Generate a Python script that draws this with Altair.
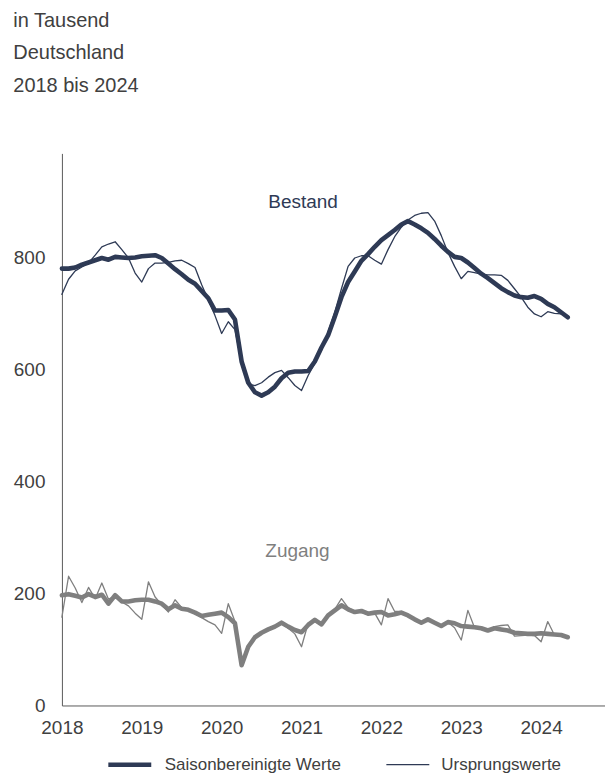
import altair as alt
import pandas as pd

# Monthly data Jan 2018 - May 2024 (in thousands)
start_year = 2018
n_months = 77

bestand_sa = [781, 781, 783, 788, 792, 796, 800, 797, 802, 801, 800, 801,
              803, 804, 805, 800, 790, 780, 771, 761, 754, 741, 728, 706,
              706, 707, 690, 615, 577, 560, 554, 560, 570, 585, 595, 597,
              597, 598, 615, 640, 662, 695, 730, 757, 776, 795, 807, 820,
              832, 841, 850, 860, 866, 860, 853, 845, 834, 822, 811, 802,
              800, 792, 782, 772, 764, 755, 746, 739, 733, 730, 729, 732,
              727, 718, 712, 703, 694]

bestand_orig = [735, 762, 777, 784, 791, 805, 820, 825, 829, 815, 800, 773,
                757, 781, 791, 791, 792, 795, 796, 790, 783, 752, 725, 697,
                665, 686, 672, 612, 575, 572, 577, 587, 595, 599, 586, 572,
                563, 590, 612, 635, 668, 703, 745, 785, 800, 804, 804, 796,
                789, 815, 838, 855, 868, 876, 880, 881, 866, 840, 810, 785,
                763, 776, 774, 771, 770, 770, 769, 760, 745, 730, 712, 700,
                695, 704, 701, 700, 697]

zugang_sa = [197, 199, 196, 193, 199, 194, 198, 182, 197, 186, 186, 188,
             189, 189, 186, 182, 172, 179, 173, 171, 166, 160, 162, 164,
             166, 158, 147, 72, 105, 122, 130, 136, 141, 148, 141, 135,
             131, 144, 153, 145, 161, 170, 179, 172, 167, 169, 164, 166,
             167, 161, 163, 166, 161, 154, 148, 154, 148, 142, 149, 147,
             142, 141, 140, 138, 134, 138, 136, 134, 130, 129, 128, 128,
             129, 128, 127, 126, 122]

zugang_orig = [158, 231, 210, 184, 211, 191, 219, 190, 195, 185, 178, 165,
               154, 221, 194, 180, 167, 189, 175, 172, 165, 157, 150, 144,
               129, 182, 150, 75, 105, 124, 131, 138, 143, 147, 138, 128,
               105, 147, 150, 145, 160, 172, 191, 175, 168, 166, 163, 165,
               144, 191, 168, 168, 161, 155, 148, 154, 148, 142, 149, 139,
               117, 170, 139, 136, 134, 141, 143, 144, 124, 125, 126, 125,
               114, 150, 126, 126, 124]

arten = ["Saisonbereinigte Werte", "Ursprungswerte"]
year_ticks = [2018, 2019, 2020, 2021, 2022, 2023, 2024]
y_ticks = [0, 200, 400, 600, 800]
title_lines = ["in Tausend", "Deutschland", "2018 bis 2024"]

NAVY = "#2e3a55"
GRAY = "#7f7f7f"
TXT = "#404040"
FONT = "Liberation Sans"


def frame(values, art):
    return pd.DataFrame({
        "t": [start_year + i / 12 for i in range(n_months)],
        "wert": values,
        "art": art,
    })


bestand = pd.concat([frame(bestand_sa, arten[0]), frame(bestand_orig, arten[1])])
zugang = pd.concat([frame(zugang_sa, arten[0]), frame(zugang_orig, arten[1])])

xscale = alt.Scale(domain=[2018, 2024.8], nice=False, zero=False)
yscale = alt.Scale(domain=[0, 987], nice=False)

xenc = alt.X("t:Q", scale=xscale, title=None,
             axis=alt.Axis(values=year_ticks, format="d", ticks=False, grid=False,
                           labelFontSize=19, labelFont=FONT, labelColor=TXT,
                           labelPadding=13, domainColor="#595959", labelFlush=False))
yenc = alt.Y("wert:Q", scale=yscale, title=None,
             axis=alt.Axis(values=y_ticks, ticks=False, grid=False,
                           labelFontSize=19, labelFont=FONT, labelColor=TXT,
                           labelPadding=17, domainColor="#595959"))

sw = alt.StrokeWidth(
    "art:N",
    scale=alt.Scale(domain=arten, range=[4.6, 1.3]),
    legend=alt.Legend(title=None, orient="none", direction="horizontal",
                      legendX=44, legendY=588, symbolType="stroke",
                      symbolSize=1849, symbolStrokeColor=NAVY,
                      labelFontSize=17, labelFont=FONT, labelColor=TXT,
                      labelLimit=400, labelOffset=11, columnPadding=42),
)

zug_lines = alt.Chart(zugang).mark_line(color=GRAY, strokeCap="round", strokeJoin="round").encode(
    x=xenc, y=yenc, strokeWidth=sw, order=alt.Order("t:Q"))
best_lines = alt.Chart(bestand).mark_line(color=NAVY, strokeCap="round", strokeJoin="round").encode(
    x=xenc, y=yenc, strokeWidth=sw, order=alt.Order("t:Q"))

lab_best = alt.Chart(pd.DataFrame({"t": [2021.02], "wert": [900], "label": ["Bestand"]})).mark_text(
    fontSize=19, font=FONT, color=NAVY).encode(x=alt.X("t:Q", scale=xscale), y=alt.Y("wert:Q", scale=yscale), text="label:N")
lab_zug = alt.Chart(pd.DataFrame({"t": [2020.95], "wert": [276], "label": ["Zugang"]})).mark_text(
    fontSize=19, font=FONT, color=GRAY).encode(x=alt.X("t:Q", scale=xscale), y=alt.Y("wert:Q", scale=yscale), text="label:N")

chart = alt.layer(zug_lines, best_lines, lab_best, lab_zug).properties(
    width=544, height=553,
    padding={"left": 5, "top": 2, "right": 0, "bottom": 0},
    background="white",
    title=alt.TitleParams(text=title_lines, anchor="start", frame="bounds",
                          fontSize=20, font=FONT, fontWeight="normal", color=TXT,
                          lineHeight=32.5, offset=58),
).configure_view(stroke=None)

chart.save("out.html", embed_options={"renderer": "svg", "actions": False})
